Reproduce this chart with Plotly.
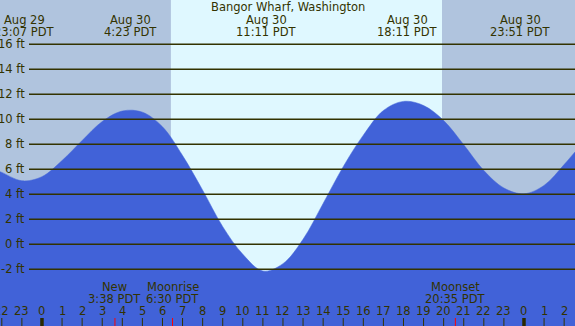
import plotly.graph_objects as go

# ---- data (hours relative to Aug 30 00:00 PDT), heights in feet ----
tide_hours = [-2.09, -2, -1, 0, 1, 2, 3, 4, 5, 6, 7, 8, 9, 10, 11, 12, 13, 14, 15, 16,
              17, 18, 19, 20, 21, 22, 23, 24, 25, 26, 26.54]
tide_feet = [5.8, 5.75, 5.08, 5.41, 6.7, 8.3, 9.82, 10.66, 10.57, 9.4, 7.1, 4.33, 1.41,
             -0.8, -2.14, -1.55, 0.4, 3.27, 6.21, 8.73, 10.7, 11.43, 11.1, 9.9, 7.96, 5.9,
             4.5, 4.04, 4.71, 6.38, 7.39]

extreme_hours = [-0.883, 4.383, 11.183, 18.183, 23.85]
extreme_dates = ["Aug 29", "Aug 30", "Aug 30", "Aug 30", "Aug 30"]
extreme_times = ["23:07 PDT", "4:23 PDT", "11:11 PDT", "18:11 PDT", "23:51 PDT"]

moon_hours = [3.633, 6.5, 20.583]
moon_events = ["New", "Moonrise", "Moonset"]
moon_times = ["3:38 PDT", "6:30 PDT", "20:35 PDT"]

sunrise_hour = 6.42
sunset_hour = 19.92

feet_levels = [16, 14, 12, 10, 8, 6, 4, 2, 0, -2]
hour_ticks = list(range(-2, 27))
hour_labels = [str(h % 24) for h in hour_ticks]

title = "Bangor Wharf, Washington"

X_RANGE = [-2.09, 26.54]
Y_RANGE = [-6.54, 19.54]

NIGHT = "#b0c4de"
DAY = "#dff8ff"
WATER = "#4162d8"
INK = "#333300"
FONT = "DejaVu Sans"
FS = 11.5

W, H = 575, 326

fig = go.Figure()

# baseline for fill
fig.add_trace(go.Scatter(x=X_RANGE, y=[Y_RANGE[0] - 1] * 2, mode="lines",
                         line=dict(width=0, color=WATER), hoverinfo="skip", showlegend=False))
fig.add_trace(go.Scatter(x=tide_hours, y=tide_feet, mode="lines", fill="tonexty",
                         fillcolor=WATER, line=dict(color=WATER, width=0.5, shape="spline", smoothing=1.0),
                         hoverinfo="skip", showlegend=False))

shapes = []
# night/day background
shapes.append(dict(type="rect", xref="x", yref="paper", x0=X_RANGE[0], x1=sunrise_hour, y0=0, y1=1,
                   fillcolor=NIGHT, line=dict(width=0), layer="below"))
shapes.append(dict(type="rect", xref="x", yref="paper", x0=sunrise_hour, x1=sunset_hour, y0=0, y1=1,
                   fillcolor=DAY, line=dict(width=0), layer="below"))
shapes.append(dict(type="rect", xref="x", yref="paper", x0=sunset_hour, x1=X_RANGE[1], y0=0, y1=1,
                   fillcolor=NIGHT, line=dict(width=0), layer="below"))

# gridlines
for f in feet_levels:
    shapes.append(dict(type="line", xref="paper", yref="y", x0=29 / W, x1=1, y0=f, y1=f,
                       line=dict(color=INK, width=1.3), layer="above"))

# hour ticks
for h in hour_ticks:
    major = (h % 24 == 0)
    shapes.append(dict(type="line", xref="x", yref="paper", x0=h, x1=h,
                       y0=0, y1=8 / H, line=dict(color="#2a2a00" if major else INK,
                                                 width=3.5 if major else 1), layer="above"))
for h in moon_hours:
    shapes.append(dict(type="line", xref="x", yref="paper", x0=h, x1=h,
                       y0=0, y1=8 / H, line=dict(color="#ff0000", width=1), layer="above"))


def label(text, xref, x, ypix, xanchor="center"):
    return dict(text=text, xref=xref, yref="paper", x=x, y=1 - ypix / H,
                xanchor=xanchor, yanchor="middle", showarrow=False,
                font=dict(family=FONT, size=FS, color=INK))


annotations = [label(title, "paper", 0.5, 7)]
for h, d, t in zip(extreme_hours, extreme_dates, extreme_times):
    annotations.append(label(d, "x", h, 20))
    annotations.append(label(t, "x", h, 32))
for h, e, t in zip(moon_hours, moon_events, moon_times):
    annotations.append(label(e, "x", h, 287))
    annotations.append(label(t, "x", h, 299))
for f in feet_levels:
    a = label(f"{f} ft", "paper", 27 / W, 0, xanchor="right")
    a["yref"] = "y"
    a["y"] = f
    annotations.append(a)
for h, lab in zip(hour_ticks, hour_labels):
    annotations.append(label(lab, "x", h, 311))

fig.update_layout(
    width=W, height=H,
    margin=dict(l=0, r=0, t=0, b=0),
    paper_bgcolor=NIGHT, plot_bgcolor=NIGHT,
    xaxis=dict(range=X_RANGE, visible=False, fixedrange=True),
    yaxis=dict(range=Y_RANGE, visible=False, fixedrange=True),
    shapes=shapes, annotations=annotations, showlegend=False,
)

fig.write_html("out.html", config={"displayModeBar": False},
               post_script="document.body.style.margin='0';document.body.style.padding='0';")
